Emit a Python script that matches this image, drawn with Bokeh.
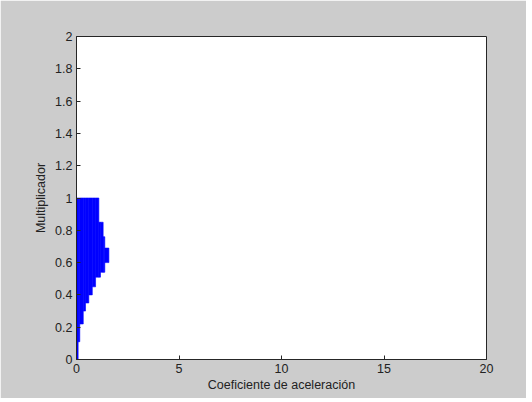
from bokeh.plotting import figure
from bokeh.models import Range1d, FixedTicker
from bokeh.embed import file_html
from bokeh.resources import INLINE

# Region (coefficient intervals) and multiplier bounds
coef_left = [0.00, 0.08, 0.16, 0.33, 0.44, 0.60, 0.77, 0.93, 1.09, 1.17, 1.30, 1.38]
coef_right = [0.08, 0.16, 0.33, 0.44, 0.60, 0.77, 0.93, 1.09, 1.17, 1.30, 1.38, 1.58]
mult_low = [0.00, 0.11, 0.22, 0.30, 0.35, 0.40, 0.45, 0.51, 0.51, 0.54, 0.54, 0.60]
mult_high = [1.00, 1.00, 1.00, 1.00, 1.00, 1.00, 1.00, 1.00, 0.85, 0.85, 0.76, 0.69]

x_ticks = [0, 5, 10, 15, 20]
y_ticks = [0, 0.2, 0.4, 0.6, 0.8, 1.0, 1.2, 1.4, 1.6, 1.8, 2.0]
y_tick_labels = ["0", "0.2", "0.4", "0.6", "0.8", "1", "1.2", "1.4", "1.6", "1.8", "2"]

FONT = "Liberation Sans"
TXT = "#222222"

p = figure(frame_width=410, frame_height=323,
           min_border_left=76, min_border_right=40,
           min_border_top=36, min_border_bottom=39,
           x_range=Range1d(0, 20), y_range=Range1d(0, 2),
           output_backend="svg", toolbar_location=None)

p.background_fill_color = "white"
p.border_fill_color = "#cccccc"
p.outline_line_color = "#262626"
p.outline_line_width = 1
p.grid.visible = False

p.quad(left=coef_left, right=coef_right, bottom=mult_low, top=mult_high,
       fill_color="#0000ff", line_color="#0000ff", line_width=0.6)

for ax in (p.xaxis[0], p.yaxis[0]):
    ax.axis_line_color = "#262626"
    ax.major_tick_line_color = "#262626"
    ax.major_tick_in = 4
    ax.major_tick_out = 0
    ax.minor_tick_line_color = None
    ax.major_label_text_font = FONT
    ax.major_label_text_font_size = "12.5px"
    ax.major_label_text_color = TXT
    ax.axis_label_text_font = FONT
    ax.axis_label_text_font_size = "12.5px"
    ax.axis_label_text_font_style = "normal"
    ax.axis_label_text_color = TXT

p.xaxis[0].ticker = FixedTicker(ticks=x_ticks)
p.xaxis[0].major_label_standoff = 4
p.xaxis[0].axis_label = "Coeficiente de aceleración"
p.xaxis[0].axis_label_standoff = 2

p.yaxis[0].ticker = FixedTicker(ticks=y_ticks)
p.yaxis[0].major_label_overrides = {t: l for t, l in zip(y_ticks, y_tick_labels)}
p.yaxis[0].major_label_standoff = 4
p.yaxis[0].axis_label = "Multiplicador"
p.yaxis[0].axis_label_standoff = 4

open("out.html", "w").write(file_html(p, INLINE))
